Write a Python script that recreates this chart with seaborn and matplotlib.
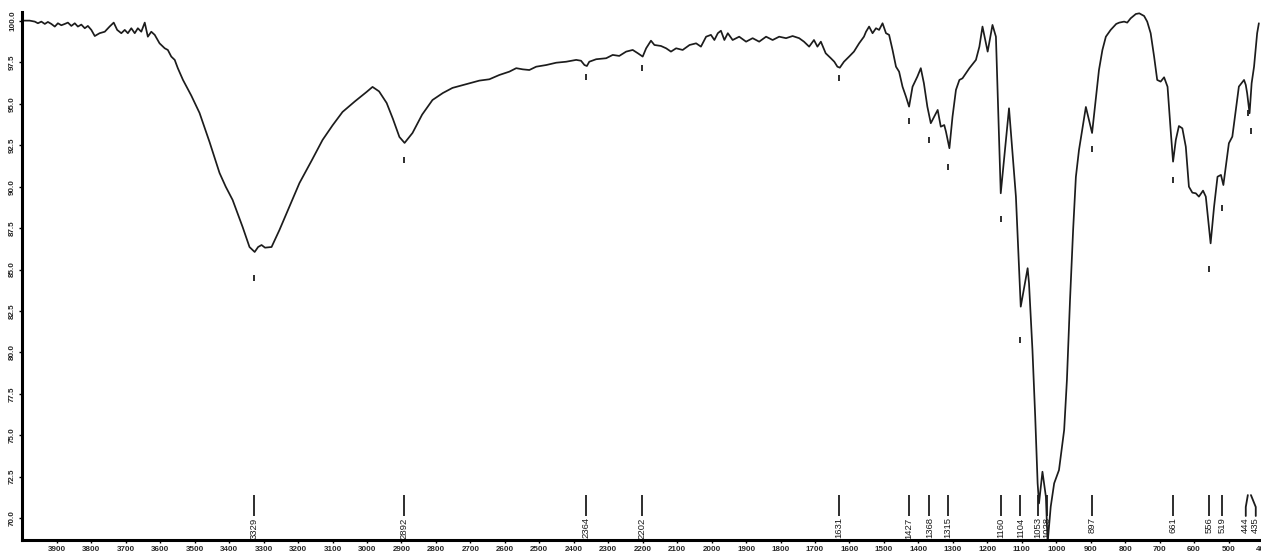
import matplotlib
matplotlib.use("Agg")
import matplotlib.pyplot as plt
import seaborn as sns
import pandas as pd

# ---- data ----
wavenumber = [
    3998, 3979, 3964, 3955, 3945, 3935, 3926, 3916, 3906, 3897, 3887, 3877, 3868, 3858,
    3848, 3839, 3829, 3819, 3810, 3800, 3790, 3776, 3761, 3747, 3735, 3725, 3713, 3703,
    3694, 3684, 3674, 3665, 3655, 3645, 3636, 3626, 3616, 3602, 3587, 3578, 3568, 3558,
    3549, 3534, 3510, 3486, 3457, 3428, 3410, 3390, 3361, 3341, 3326, 3316, 3306, 3296,
    3277, 3254, 3225, 3196, 3160, 3129, 3100, 3071, 3035, 3001, 2984, 2965, 2943, 2925,
    2906, 2891, 2868, 2840, 2810, 2780, 2752, 2710, 2674, 2645, 2616, 2587, 2567, 2548,
    2529, 2509, 2480, 2451, 2422, 2393, 2379, 2369, 2362, 2355, 2335, 2306, 2287, 2268,
    2248, 2229, 2214, 2200, 2190, 2176, 2166, 2147, 2132, 2118, 2103, 2084, 2064, 2045,
    2031, 2016, 2002, 1992, 1982, 1973, 1963, 1953, 1939, 1920, 1900, 1881, 1862, 1842,
    1823, 1804, 1784, 1765, 1746, 1732, 1717, 1703, 1693, 1683, 1669, 1654, 1644, 1635,
    1628, 1616, 1601, 1587, 1572, 1558, 1552, 1543, 1533, 1523, 1514, 1504, 1494, 1485,
    1475, 1465, 1456, 1446, 1436, 1427, 1417, 1403, 1393, 1384, 1374, 1364, 1349, 1344,
    1335, 1325, 1320, 1310, 1301, 1291, 1281, 1272, 1252, 1233, 1223, 1214, 1199, 1185,
    1175, 1161, 1137, 1117, 1103, 1083, 1079, 1069, 1061, 1054, 1050, 1040, 1030, 1025,
    1016, 1006, 992, 977, 969, 960, 951, 943, 934, 914, 896, 876, 866, 856,
    842, 826, 817, 803, 794, 784, 769, 759, 745, 736, 726, 716, 707, 697,
    687, 677, 668, 661, 653, 644, 634, 624, 615, 605, 595, 586, 574, 566,
    552, 542, 532, 522, 515, 499, 489, 470, 455, 450, 446, 439, 433, 426,
    417, 412,
]
transmittance = [
    100.02, 100.02, 99.96, 99.86, 99.96, 99.82, 99.94, 99.82, 99.66, 99.86, 99.74, 99.82, 99.90, 99.70,
    99.86, 99.66, 99.78, 99.56, 99.70, 99.46, 99.09, 99.26, 99.35, 99.66, 99.90, 99.46, 99.26, 99.46,
    99.26, 99.56, 99.26, 99.56, 99.35, 99.90, 99.05, 99.35, 99.16, 98.65, 98.35, 98.25, 97.85, 97.65,
    97.15, 96.44, 95.50, 94.45, 92.70, 90.83, 90.00, 89.20, 87.57, 86.36, 86.06, 86.36, 86.48, 86.32,
    86.36, 87.39, 88.80, 90.22, 91.60, 92.82, 93.70, 94.51, 95.15, 95.72, 96.02, 95.75, 95.05, 94.10,
    93.00, 92.64, 93.24, 94.35, 95.23, 95.65, 95.96, 96.20, 96.40, 96.48, 96.74, 96.94, 97.15, 97.08,
    97.04, 97.24, 97.34, 97.48, 97.54, 97.65, 97.60, 97.34, 97.28, 97.54, 97.69, 97.75, 97.95, 97.89,
    98.15, 98.25, 98.05, 97.85, 98.35, 98.81, 98.55, 98.49, 98.35, 98.15, 98.35, 98.25, 98.55, 98.65,
    98.45, 99.05, 99.16, 98.85, 99.26, 99.41, 98.85, 99.26, 98.85, 99.05, 98.75, 98.96, 98.75, 99.05,
    98.85, 99.05, 98.96, 99.09, 98.96, 98.75, 98.45, 98.85, 98.45, 98.75, 98.05, 97.75, 97.54, 97.24,
    97.18, 97.54, 97.85, 98.15, 98.65, 99.05, 99.35, 99.66, 99.26, 99.56, 99.46, 99.86, 99.26, 99.16,
    98.25, 97.24, 96.94, 96.03, 95.43, 94.83, 96.03, 96.64, 97.15, 96.24, 94.83, 93.83, 94.43, 94.63,
    93.62, 93.72, 93.32, 92.32, 94.22, 95.84, 96.44, 96.54, 97.15, 97.65, 98.45, 99.66, 98.15, 99.76,
    99.05, 89.60, 94.73, 89.40, 82.76, 85.08, 84.17, 80.14, 76.12, 72.10, 70.89, 72.80, 71.29, 68.50,
    70.69, 72.10, 72.90, 75.32, 78.34, 83.16, 87.39, 90.59, 92.21, 94.81, 93.24, 97.04, 98.25, 99.05,
    99.46, 99.82, 99.90, 99.96, 99.90, 100.16, 100.42, 100.46, 100.30, 99.96, 99.26, 97.85, 96.44, 96.34,
    96.60, 96.03, 93.42, 91.51, 92.82, 93.66, 93.52, 92.41, 90.00, 89.64, 89.60, 89.40, 89.76, 89.40,
    86.58, 88.79, 90.60, 90.71, 90.10, 92.62, 93.02, 96.04, 96.44, 96.14, 95.64, 94.43, 96.24, 97.24,
    99.26, 99.86,
]

peak_labels = [3329, 2892, 2364, 2202, 1631, 1427, 1368, 1315, 1160, 1104,
               1053, 1028, 897, 661, 556, 519, 444, 435]
# transmittance level of the small marker dash drawn under each peak (None = no dash)
peak_marks = [84.49, 91.61, 96.62, 97.16, 96.56, 93.96, 92.82, 91.19, 88.05, 80.75,
              None, None, 92.28, 90.40, 85.03, 88.71, 94.45, 93.36]
# where the label of a peak is shifted to (crowded labels)
label_shift = {444: 450, 435: 421}

x_ticks = list(range(3900, 399, -100))
y_ticks = [70.0, 72.5, 75.0, 77.5, 80.0, 82.5, 85.0, 87.5, 90.0, 92.5, 95.0, 97.5, 100.0]

df = pd.DataFrame({"wavenumber": wavenumber, "T": transmittance})

sns.set_style("white")
plt.rcParams["font.family"] = ["Liberation Sans", "DejaVu Sans"]

W, H = 1261, 554
fig = plt.figure(figsize=(W / 100, H / 100), dpi=100)
left_px, right_px, top_px, bot_px = 22.4, 1263, 12, 540
ax = fig.add_axes([left_px / W, (H - bot_px) / H,
                   (right_px - left_px) / W, (bot_px - top_px) / H])

line_col = "#1c1c1c"
sns.lineplot(data=df, x="wavenumber", y="T", ax=ax, color=line_col,
             linewidth=1.25, estimator=None, sort=False)

ax.set_xlim(4000, 400)
ax.set_ylim(68.68, 100.54)

# peak marker dashes under the curve
for p, m in zip(peak_labels, peak_marks):
    if m is not None:
        ax.plot([p, p], [m - 0.17, m + 0.17], color=line_col, lw=1.3,
                solid_capstyle="butt")

# peak label lines + rotated numbers at the bottom
top_T, mid_T, bot_T = 71.39, 70.67, 70.13
for p in peak_labels:
    lx = label_shift.get(p, p)
    if lx == p:
        ax.plot([p, p], [top_T, bot_T], color=line_col, lw=1.3, solid_capstyle="butt")
    else:
        ax.plot([p, lx, lx], [top_T, mid_T, bot_T], color=line_col, lw=1.3)
    ax.text(lx, bot_T - 0.08, str(p), rotation=90, ha="center", va="top",
            fontsize=6.8, color=line_col)

ax.set_xticks(x_ticks)
ax.set_xticklabels([str(t) for t in x_ticks], fontsize=5.8, fontweight="bold")
ax.set_yticks(y_ticks)
ax.set_yticklabels([f"{t:.1f}" for t in y_ticks], fontsize=5.8, fontweight="bold",
                   rotation=90, va="center")
ax.tick_params(axis="both", length=2.5, width=1, color="black", pad=2,
               bottom=True, left=True)
ax.set_xlabel("")
ax.set_ylabel("")

for s in ["top", "right"]:
    ax.spines[s].set_visible(False)
for s in ["left", "bottom"]:
    ax.spines[s].set_linewidth(2.2)
    ax.spines[s].set_color("black")

fig.savefig("out.png", dpi=100)
